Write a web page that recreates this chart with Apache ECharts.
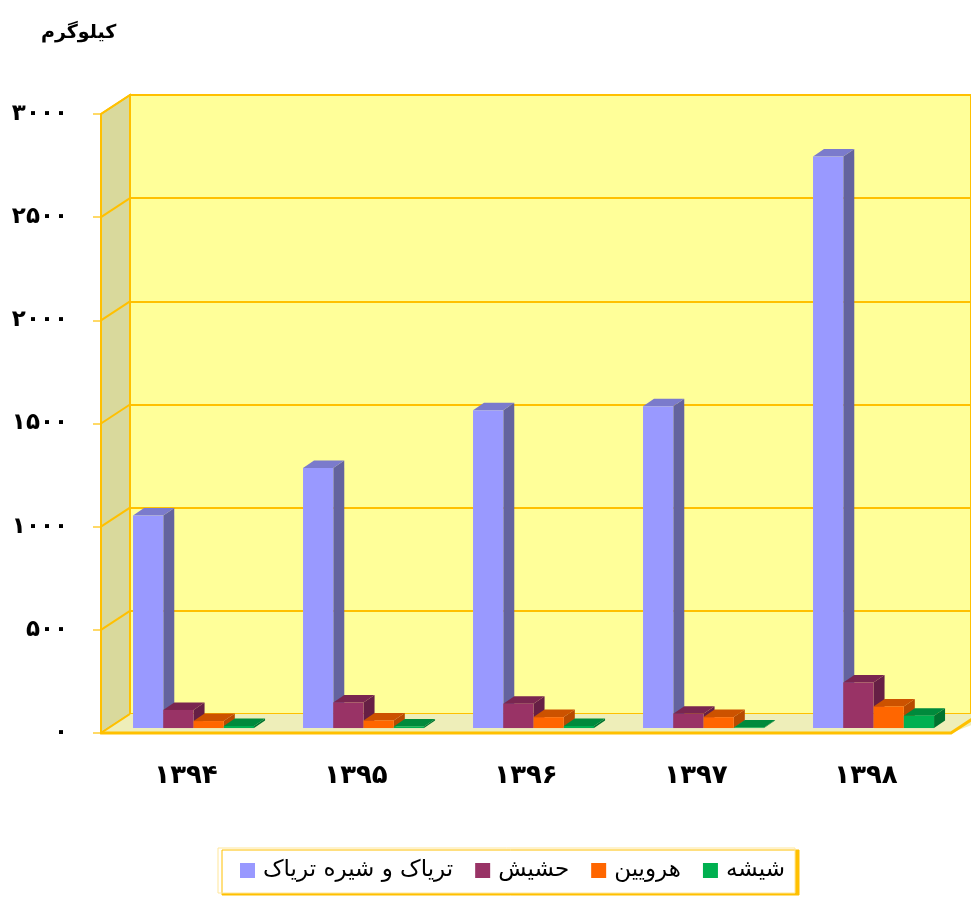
<!DOCTYPE html>
<html>
<head>
<meta charset="utf-8">
<script src="https://cdn.jsdelivr.net/npm/echarts@6/dist/echarts.min.js"></script>
<style>
html,body{margin:0;padding:0;background:#ffffff;}
#chart{width:971px;height:897px;}
</style>
</head>
<body>
<div id="chart"></div>
<script>
// ---- data ----
const categories = ['۱۳۹۴', '۱۳۹۵', '۱۳۹۶', '۱۳۹۷', '۱۳۹۸'];
const seriesNames = ['تریاک و شیره تریاک', 'حشیش', 'هرویین', 'شیشه'];
const opium = [1030, 1260, 1540, 1560, 2770];
const hashish = [88, 124, 118, 69, 221];
const heroin = [34, 37, 53, 53, 105];
const meth = [10, 8, 10, 3, 60];
const yTicks = [0, 500, 1000, 1500, 2000, 2500, 3000];
const unitLabel = 'کیلوگرم';

// ---- styling ----
const FONT = 'DejaVu Sans';
const GOLD = '#FFC000';
const faceColors = [
  { front: '#9999FF', side: '#63639E', top: '#7B7BCC' },
  { front: '#993366', side: '#661F45', top: '#7A2650' },
  { front: '#FF6600', side: '#B84A00', top: '#CC5200' },
  { front: '#00B050', side: '#00732F', top: '#008A3C' }
];
const seriesValues = [opium, hashish, heroin, meth];

const toFa = s => String(s).replace(/\d/g, d => '۰۱۲۳۴۵۶۷۸۹'[d]);

// geometry of front and back planes
const FRONT = { left: 101, right: 20, top: 114, bottom: 164 };
const BACK = { left: 130, right: 0, top: 95, bottom: 183 };
const DX = BACK.left - FRONT.left;   // depth offset x
const DY = BACK.top - FRONT.top;     // depth offset y
const BAR_DEPTH_POS = 0.26;          // bars sit at this fraction of the depth

function decorRender(params, api) {
  const cs = params.coordSys;
  const v = api.value(0);
  const p = api.coord([0, v]);
  const xL = cs.x;
  const children = [];
  if (params.dataIndex === 0) {
    const yTop = cs.y, yBot = cs.y + cs.height;
    const xR = cs.x + cs.width;
    children.push({
      type: 'polygon',
      shape: { points: [[xL, yBot], [xL, yTop], [xL + DX, yTop + DY], [xL + DX, yBot + DY]] },
      style: { fill: '#D9D99C', stroke: GOLD, lineWidth: 2 },
      z2: 0
    });
    children.push({
      type: 'polygon',
      shape: { points: [[xL, yBot], [xL + DX, yBot + DY], [xR + DX + 20, yBot + DY], [xR, yBot]] },
      style: { fill: '#EEEEB9', stroke: null },
      z2: 0
    });
    children.push({
      type: 'polyline',
      shape: { points: [[xL, yBot], [xR, yBot], [xR + DX, yBot + DY]] },
      style: { stroke: GOLD, lineWidth: 3, fill: null },
      z2: 2
    });
  }
  children.push({
    type: 'line',
    shape: { x1: xL, y1: p[1], x2: xL + DX, y2: p[1] + DY },
    style: { stroke: GOLD, lineWidth: 2 },
    z2: 1
  });
  return { type: 'group', children: children };
}

function makeBarRender(k) {
  return function (params, api) {
    const j = api.value(0);
    const v = api.value(1);
    const base = api.coord([j, 0]);
    const top = api.coord([j, v]);
    const catW = api.size([1, 0])[0];
    const bw = catW * 0.178;
    const shx = DX * BAR_DEPTH_POS, shy = DY * BAR_DEPTH_POS;
    const x0 = base[0] - bw * 2 + k * bw + shx;
    const yb = base[1] + shy;
    const yt = top[1] + shy;
    const ddx = 11, ddy = -7.5;
    const c = faceColors[k];
    return {
      type: 'group',
      children: [
        { type: 'polygon', shape: { points: [[x0 + bw, yt], [x0 + bw + ddx, yt + ddy], [x0 + bw + ddx, yb + ddy], [x0 + bw, yb]] }, style: { fill: c.side } },
        { type: 'polygon', shape: { points: [[x0, yt], [x0 + ddx, yt + ddy], [x0 + bw + ddx, yt + ddy], [x0 + bw, yt]] }, style: { fill: c.top } },
        { type: 'rect', shape: { x: x0, y: yt, width: bw, height: yb - yt }, style: { fill: c.front } }
      ]
    };
  };
}

const barSeries = seriesNames.map((name, k) => ({
  name: name,
  type: 'custom',
  xAxisIndex: 1,
  yAxisIndex: 1,
  renderItem: makeBarRender(k),
  itemStyle: { color: faceColors[k].front },
  encode: { x: 0, y: 1 },
  data: seriesValues[k].map((v, j) => [j, v]),
  z: 5 + k
}));

const chart = echarts.init(document.getElementById('chart'), null, { renderer: 'canvas' });
chart.setOption({
  animation: false,
  backgroundColor: '#ffffff',
  title: {
    text: unitLabel,
    left: 36,
    top: 19,
    textStyle: { fontFamily: FONT, fontSize: 19, fontWeight: 'bold', color: '#000' }
  },
  legend: {
    data: seriesNames,
    left: 218,
    top: 848,
    padding: [11, 10, 11, 22],
    itemGap: 22,
    itemWidth: 15,
    itemHeight: 15,
    icon: 'rect',
    backgroundColor: '#ffffff',
    borderColor: '#FFE699',
    borderWidth: 1,
    shadowColor: GOLD,
    shadowOffsetX: 4,
    shadowOffsetY: 2,
    shadowBlur: 0,
    textStyle: { fontFamily: FONT, fontSize: 23, color: '#000', padding: [0, 0, 0, 3] }
  },
  grid: [
    Object.assign({ show: true, backgroundColor: '#FFFF99', borderColor: GOLD, borderWidth: 2 }, BACK),
    Object.assign({ show: false }, FRONT)
  ],
  xAxis: [
    { type: 'category', gridIndex: 0, data: categories, show: false },
    {
      type: 'category', gridIndex: 1, data: categories,
      axisLine: { show: false }, axisTick: { show: false },
      axisLabel: { margin: 30, fontFamily: FONT, fontSize: 26, fontWeight: 'bold', color: '#000' }
    }
  ],
  yAxis: [
    {
      type: 'value', gridIndex: 0, min: 0, max: 3000, interval: 500,
      axisLine: { show: false }, axisTick: { show: false }, axisLabel: { show: false },
      splitLine: { show: true, lineStyle: { color: GOLD, width: 2 } }
    },
    {
      type: 'value', gridIndex: 1, min: 0, max: 3000, interval: 500,
      axisLine: { show: false },
      axisTick: { show: true, length: 8, lineStyle: { color: '#FFD966', width: 2 } },
      splitLine: { show: false },
      axisLabel: {
        margin: 33, fontFamily: FONT, fontSize: 23, fontWeight: 'bold', color: '#000',
        formatter: v => toFa(v)
      }
    }
  ],
  series: [
    {
      name: 'decor',
      type: 'custom',
      xAxisIndex: 1,
      yAxisIndex: 1,
      silent: true,
      renderItem: decorRender,
      encode: { y: 0 },
      data: yTicks.map(v => [v]),
      z: 1
    }
  ].concat(barSeries)
});
</script>
</body>
</html>
